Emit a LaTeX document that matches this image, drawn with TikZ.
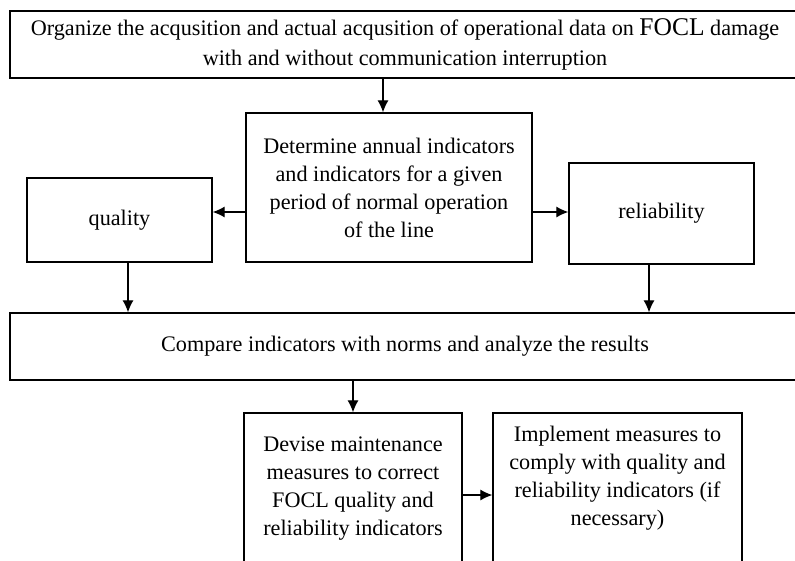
\documentclass[tikz,border=0pt]{standalone}
\usepackage{fontspec}
\setmainfont{Liberation Serif}
\usetikzlibrary{arrows.meta}

\begin{document}
\begin{tikzpicture}[x=1pt,y=-1pt,
        line width=1.2pt,
        box/.style={draw,line width=1.3pt,align=center,inner sep=0pt},
        font=\fontsize{22.2}{28}\selectfont,
        >={Latex[length=12pt,width=11pt]} % arrow tips
        ]
    \useasboundingbox (0,0) rectangle (795,560);
    \clip (0,0) rectangle (795,560);

    % boxes
    \node[box, minimum width=790, minimum height=67] (acquire) at (405,44.5)
        {Organize the acqusition and actual acqusition of operational data on {\fontsize{25.5}{28}\selectfont FOCL} damage\\[2pt]
         with and without communication interruption};
    \node[box, minimum width=286, minimum height=149] (determine) at (389,187.5)
        {Determine annual indicators\\and indicators for a given\\period of normal operation\\of the line};
    \node[box, minimum width=185, minimum height=84] (quality) at (119.5,220) {quality};
    \node[box, minimum width=185, minimum height=101] (reliability) at (661.5,213.5) {reliability};
    \node[box, minimum width=790, minimum height=67] (compare) at (405,346.5)
        {Compare indicators with norms and analyze the results};
    \node[box, minimum width=218, minimum height=152] (devise) at (353,489)
        {Devise maintenance\\measures to correct\\FOCL quality and\\reliability indicators};
    \node[box, minimum width=249, minimum height=160] (implement) at (617.5,493) {};
    \node[align=center] (implementtext) at (617.5,478)
        {Implement measures to\\comply with quality and\\reliability indicators (if\\necessary)};

    % connectors
    \coordinate (a1) at ([xshift=-6pt]determine.north);
    \draw[->] (a1 |- acquire.south) -- (a1);

    \coordinate (d1) at ([yshift=-24.5pt]determine.west);
    \coordinate (d2) at ([yshift=-24.5pt]determine.east);
    \draw[->] (d1) -- (d1 -| quality.east);
    \draw[->] (d2) -- (d2 -| reliability.west);

    \coordinate (q1) at ([xshift=8.5pt]quality.south);
    \coordinate (r1) at ([xshift=-12.5pt]reliability.south);
    \draw[->] (q1) -- (q1 |- compare.north);
    \draw[->] (r1) -- (r1 |- compare.north);

    \draw[->] (compare.south -| devise.north) -- (devise.north);

    \coordinate (v1) at ([yshift=-6pt]devise.east);
    \draw[->] (v1) -- (v1 -| implement.west);

\end{tikzpicture}
\end{document}
